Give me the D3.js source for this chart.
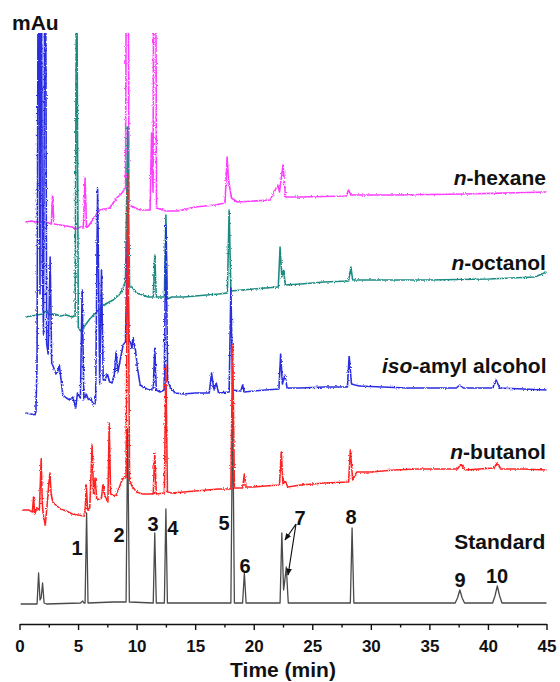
<!DOCTYPE html>
<html><head><meta charset="utf-8">
<script src="https://cdn.jsdelivr.net/npm/d3@7"></script>
<style>body{margin:0;background:#fff}svg{display:block}text{font-family:"Liberation Sans",Arial,sans-serif;font-weight:bold}</style>
</head><body><svg id="c" width="560" height="682"></svg>
<script>
// ---- data (time in min, signal in mAu relative to each trace's offset) ----
const xTicks = [0,5,10,15,20,25,30,35,40,45];
const xMinorTicks = [2.5,7.5,12.5,17.5,22.5,27.5,32.5,37.5,42.5];
const traceNames = ["Standard","n-butanol","iso-amyl alcohol","n-octanol","n-hexane"];
const traceOffsets = [20,110,210,307,402];

const standardTrace = [[0.1,0],[1.5,0],[1.63,31],[1.75,4],[1.85,6],[1.97,21],[2.1,1],[2.3,0],[5.2,1],[5.4,3],[5.5,1],[5.6,1],[5.73,91],[5.85,1],[8.0,2],[9.1,2],[9.24,175],[9.38,2],[11.42,1],[11.55,71],[11.68,1],[12.37,1],[12.5,95],[12.63,1],[18.05,1],[18.2,200],[18.35,1],[19.05,1],[19.2,31],[19.35,1],[22.25,1],[22.4,71],[22.55,14],[22.62,20],[22.78,37],[22.95,1],[28.25,1],[28.4,76],[28.55,1],[37.2,1],[37.4,6],[37.6,14],[37.8,6],[38.0,1],[40.4,1],[40.6,8],[40.8,18],[41.0,8],[41.2,1],[45,1]];

const butanolTrace = [[0.2,4],[0.8,4],[1.1,2],[1.2,17],[1.3,0],[1.5,6],[1.7,4],[1.85,55],[1.95,10],[2.05,-3],[2.2,-11],[2.35,8],[2.5,30],[2.6,41],[2.7,20],[2.85,12],[3.0,10],[3.5,5],[4.0,3],[4.5,0],[5.0,-1],[5.5,-2],[5.6,2],[5.7,29],[5.82,4],[6.0,6],[6.2,69],[6.32,20],[6.45,36],[6.6,14],[7.0,16],[7.12,29],[7.3,18],[7.55,12],[7.66,91],[7.78,20],[8.2,18],[8.5,26],[8.85,37],[9.1,36],[9.24,340],[9.4,34],[9.6,28],[10.0,22],[10.5,20],[11.0,20],[11.42,20],[11.55,61],[11.68,20],[12.37,21],[12.5,150],[12.63,22],[13,21],[14,22],[15,23],[16,24],[17,25],[18.05,25],[18.2,170],[18.35,26],[19.05,26],[19.2,40],[19.35,27],[20,27],[21,28],[22.2,29],[22.35,62],[22.5,30],[22.7,33],[22.9,27],[24,29],[26,31],[28.1,32],[28.25,64],[28.45,34],[28.8,42],[30,42],[32,44],[34,45],[36,45],[37.4,45],[37.7,50],[38.0,44],[40.5,46],[40.8,51],[41.1,45],[43,45],[45,44]];

const isoamylTrace = [[0.5,1],[1.0,0],[1.3,-1],[1.4,2],[1.5,51],[1.62,600],[1.75,120],[1.85,600],[1.95,150],[2.05,80],[2.2,600],[2.32,70],[2.45,60],[2.62,157],[2.75,51],[2.9,47],[3.1,40],[3.25,42],[3.4,49],[3.55,34],[3.7,19],[4.0,16],[4.3,14],[4.55,17],[4.8,6],[4.95,21],[5.2,16],[5.35,124],[5.5,14],[5.7,20],[5.9,14],[6.1,16],[6.3,9],[6.5,14],[6.67,226],[6.85,30],[7.0,144],[7.15,34],[7.3,34],[7.5,40],[7.7,32],[7.9,31],[8.1,40],[8.25,62],[8.4,42],[8.6,54],[8.85,69],[9.05,72],[9.2,174],[9.35,74],[9.5,71],[9.6,66],[9.7,76],[9.9,64],[10.1,44],[10.3,29],[10.7,26],[11.2,24],[11.42,26],[11.55,66],[11.68,24],[12.0,22],[12.35,24],[12.5,189],[12.65,34],[12.9,26],[13.3,21],[14,20],[15,21],[16.2,21],[16.4,41],[16.6,24],[16.8,31],[17.0,21],[17.9,22],[18.05,126],[18.2,24],[18.9,23],[19.05,29],[19.2,22],[20,23],[21,24],[22.15,25],[22.3,60],[22.45,30],[22.65,39],[22.85,26],[24,26],[26,27],[28.0,27],[28.15,58],[28.35,30],[29,28],[31,27],[33,26],[35,26],[37.3,26],[37.6,29],[37.9,26],[40.4,26],[40.7,34],[41.0,26],[43,25],[45,24]];

const octanolTrace = [[0.5,0],[1.0,1],[1.5,2],[2.0,3],[2.3,7],[2.5,2],[3.0,3],[3.5,1],[4.0,2],[4.5,0],[4.75,1],[4.88,400],[5.02,-10],[5.2,-14],[5.5,-10],[6.0,-2],[6.5,4],[7.0,10],[7.5,14],[8.0,17],[8.5,22],[8.8,28],[9.05,36],[9.24,190],[9.4,30],[9.6,30],[10.0,24],[10.5,22],[11.0,20],[11.42,20],[11.55,62],[11.68,20],[12.37,20],[12.5,102],[12.63,18],[13,20],[14,20],[15,21],[16,22],[17,23],[17.75,24],[17.9,107],[18.05,26],[19,27],[20,28],[21,29],[22.1,30],[22.25,70],[22.4,40],[22.55,47],[22.7,32],[24,33],[26,35],[28.1,36],[28.3,50],[28.45,37],[30,37],[35,37],[40,38],[44,40],[44.6,43],[45,45]];

const hexaneTrace = [[0.5,0],[1.0,1],[1.5,0],[2.0,0],[2.5,-1],[2.72,-2],[2.82,27],[2.94,-2],[3.5,-3],[4.0,-4],[4.5,-5],[4.8,-7],[5.2,-5],[5.45,-5],[5.6,44],[5.72,-6],[5.9,-4],[6.4,5],[6.85,12],[7.7,14],[8.3,24],[8.75,29],[9.05,34],[9.22,600],[9.35,17],[9.9,14],[10.3,12],[11.15,12],[11.28,89],[11.4,30],[11.55,600],[11.7,14],[12.5,11],[13.5,11],[15,15],[16.7,17],[17.55,19],[17.73,65],[17.85,42],[18.1,24],[18.6,20],[21.4,22],[22.05,37],[22.2,30],[22.5,57],[22.72,25],[24,25],[27.9,26],[28.1,32],[28.3,27],[32,27],[38,28],[45,30]];

const traces = [standardTrace, butanolTrace, isoamylTrace, octanolTrace, hexaneTrace];
const traceColors = ["#4a4a4a","#ff2424","#2a2ee0","#1c8c82","#ff3cff"];

// peak annotations (standard): label, time, height (absolute mAu)
const peakLabels = [["1",4.91,69],["2",8.5,82],["3",11.4,93],["4",13.1,89],["5",17.46,94],["6",19.26,51],["7",23.95,99],["8",28.31,100],["9",37.62,37],["10",40.78,41]];
const labelAnchors = [[44.9,75],[44.95,165],[45.0,251],[44.95,354],[44.95,439]];
const arrow7 = {from:[23.61,100], to:[[22.67,84],[22.93,49]]};

// ---- drawing ----
const svg = d3.select("#c");
const x = d3.scaleLinear().domain([0,45]).range([19.5,546.5]);
const y = d3.scaleLinear().domain([0,590]).range([624,34]);

const defs = svg.append("defs");
defs.append("clipPath").attr("id","clip").append("rect")
  .attr("x",0).attr("y",y(591)).attr("width",560).attr("height",y(0)-y(591));
const f = defs.append("filter").attr("id","noise").attr("x","-5%").attr("y","-5%").attr("width","110%").attr("height","110%");
f.append("feTurbulence").attr("type","fractalNoise").attr("baseFrequency","0.9 0.6").attr("numOctaves",1).attr("seed",3).attr("result","t");
f.append("feDisplacementMap").attr("in","SourceGraphic").attr("in2","t").attr("scale",3).attr("xChannelSelector","R").attr("yChannelSelector","G");
defs.append("marker").attr("id","arr").attr("viewBox","0 0 10 10").attr("refX",9).attr("refY",5)
  .attr("markerWidth",6).attr("markerHeight",6).attr("orient","auto")
  .append("path").attr("d","M0,1 L10,5 L0,9 Z").attr("fill","#111");

const g = svg.append("g").attr("clip-path","url(#clip)");
const line = d3.line().x(d=>x(d[0]));
const order = [0,4,3,2,1];
order.forEach(i=>{
  const off = traceOffsets[i];
  g.append("path").datum(traces[i])
    .attr("d", line.y(d=>y(d[1]+off)))
    .attr("fill","none").attr("stroke",traceColors[i])
    .attr("stroke-width", i===0?1.3:1.6).attr("stroke-linejoin","round")
    .attr("filter", i===0?null:"url(#noise)");
});

// axis
const axis = svg.append("g").attr("transform",`translate(0,${y(0)})`);
axis.call(d3.axisBottom(x).tickValues(xTicks).tickSize(6).tickSizeOuter(0).tickFormat(d3.format("d")));
axis.call(g2=>g2.selectAll(".tick line").attr("stroke","#111").attr("stroke-width",1.4));
axis.select(".domain").attr("stroke","#111").attr("stroke-width",1.5);
axis.selectAll("text").attr("font-size",17).attr("fill","#111").attr("dy","0.95em").attr("y",12)
  .style("font-family","Liberation Sans, Arial, sans-serif").style("font-weight","bold");
const minor = svg.append("g").attr("transform",`translate(0,${y(0)})`);
minor.call(d3.axisBottom(x).tickValues(xMinorTicks).tickSize(3.5).tickFormat(""));
minor.select(".domain").remove();
minor.selectAll(".tick line").attr("stroke","#111").attr("stroke-width",1.4);

svg.append("text").attr("x",(x(0)+x(45))/2).attr("y",677).attr("text-anchor","middle")
  .attr("font-size",21).attr("fill","#111").text("Time (min)");
svg.append("text").attr("x",12).attr("y",30).attr("font-size",21).attr("fill","#111").text("mAu");

// peak numbers
peakLabels.forEach(p=>{
  svg.append("text").attr("x",x(p[1])).attr("y",y(p[2])).attr("text-anchor","middle")
    .attr("font-size",20).attr("fill","#111").text(p[0]);
});
arrow7.to.forEach(t=>{
  svg.append("line").attr("x1",x(arrow7.from[0])).attr("y1",y(arrow7.from[1]))
    .attr("x2",x(t[0])).attr("y2",y(t[1])).attr("stroke","#111").attr("stroke-width",1.2)
    .attr("marker-end","url(#arr)");
});

// trace names
traceNames.forEach((n,i)=>{
  const t = svg.append("text").attr("x",x(labelAnchors[i][0])).attr("y",y(labelAnchors[i][1]))
    .attr("text-anchor","end").attr("font-size",21).attr("fill","#111");
  const m = n.match(/^(n|iso)(-.*)$/);
  if(m){ t.append("tspan").attr("font-style","italic").text(m[1]); t.append("tspan").text(m[2]); }
  else t.text(n);
});
</script></body></html>
